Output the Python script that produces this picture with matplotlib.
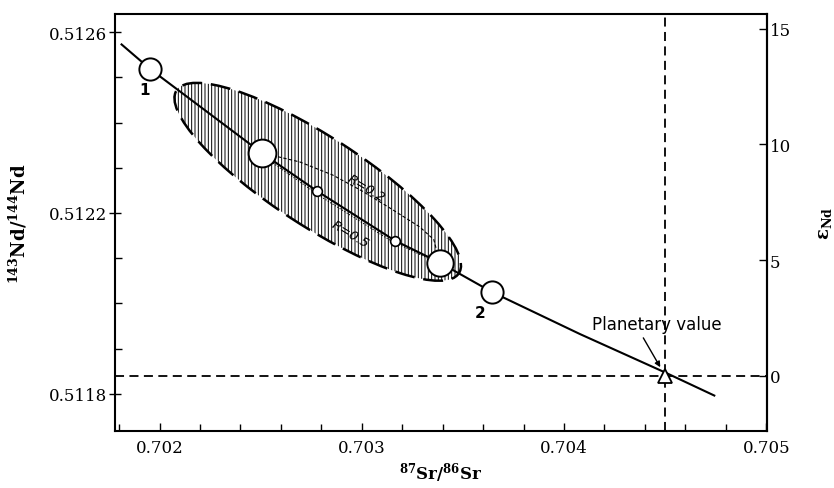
import matplotlib
matplotlib.use("Agg")
import matplotlib.pyplot as plt
from matplotlib import patches, transforms
from matplotlib.ticker import MultipleLocator, FixedLocator, FormatStrFormatter

plt.rcParams['font.family'] = ['DejaVu Serif']
plt.rcParams['mathtext.fontset'] = 'dejavuserif'
plt.rcParams['hatch.linewidth'] = 0.7

# mixing curve, 87Sr/86Sr vs 143Nd/144Nd
curve_sr = [0.701812, 0.701955, 0.702505, 0.702777, 0.703163, 0.703386, 0.703644, 0.704079, 0.704505, 0.704743]
curve_nd = [0.512573, 0.512518, 0.512333, 0.512249, 0.512139, 0.512090, 0.512025, 0.511932, 0.511846, 0.511796]

# open circles on the curve
big_sr = [0.701955, 0.702505, 0.703386, 0.703644]
big_nd = [0.512518, 0.512333, 0.512090, 0.512025]
big_ms = [16, 20, 19, 16]
small_sr = [0.702777, 0.703163]
small_nd = [0.512249, 0.512139]

# R = 0.2 and R = 0.5 curves
r02_sr = [0.702505, 0.702693, 0.702856, 0.703000, 0.703139, 0.703287, 0.703356, 0.703386]
r02_nd = [0.512333, 0.512313, 0.512284, 0.512249, 0.512211, 0.512169, 0.512141, 0.512090]
r05_sr = [0.702505, 0.702802, 0.703139, 0.703386]
r05_nd = [0.512328, 0.512235, 0.512140, 0.512087]

# hatched field (centre + two semi-axis vectors)
ell_center = (0.702782, 0.512269)
ell_major = (0.000698, -0.0002024)
ell_minor = (0.0001213, 0.0000835)

planet_sr = 0.7045
planet_nd = 0.51184
chur = 0.51184

nd_ticks = [0.5118, 0.5122, 0.5126]
eps_ticks = [0, 5, 10, 15]


def to_eps(r):
    return (r / chur - 1) * 1e4


def to_r(e):
    return (e / 1e4 + 1) * chur


fig = plt.figure(figsize=(8.34, 4.89), dpi=100)
ax = fig.add_axes([0.138, 0.117, 0.782, 0.852])

# hatched ellipse
m = transforms.Affine2D.from_values(ell_major[0], ell_major[1], ell_minor[0], ell_minor[1],
                                    ell_center[0], ell_center[1])
ell = patches.Circle((0, 0), 1, facecolor='none', edgecolor='black', hatch='|||||',
                     linewidth=1.8, linestyle=(0, (8, 3.5)), transform=m + ax.transData, zorder=1)
ax.add_patch(ell)

# planetary value cross-hair
ax.axhline(planet_nd, color='black', lw=1.3, dashes=(5, 3), zorder=2)
ax.axvline(planet_sr, color='black', lw=1.3, dashes=(5, 3), zorder=2)

ax.plot(r02_sr, r02_nd, color='black', lw=0.8, dashes=(3, 2), zorder=2)
ax.plot(r05_sr, r05_nd, color='black', lw=0.8, dashes=(1, 1.5), zorder=2)
ax.plot(curve_sr, curve_nd, color='black', lw=1.5, zorder=3)

for x, y, s in zip(big_sr, big_nd, big_ms):
    ax.plot(x, y, 'o', ms=s, mfc='white', mec='black', mew=1.4, zorder=4)
ax.plot(small_sr, small_nd, 'o', ms=7, mfc='white', mec='black', mew=1.2, zorder=4)
ax.plot(planet_sr, planet_nd, '^', ms=10, mfc='white', mec='black', mew=1.3, zorder=4)

ax.text(big_sr[0] - 0.00003, big_nd[0] - 0.000045, '1', family='DejaVu Sans', fontsize=11,
        fontweight='bold', ha='center', va='center')
ax.text(big_sr[3] - 0.00006, big_nd[3] - 0.000045, '2', family='DejaVu Sans', fontsize=11,
        fontweight='bold', ha='center', va='center')
ax.text(0.703020, 0.512257, 'R=0.2', family='DejaVu Sans', style='italic', fontsize=9.5,
        rotation=-31, ha='center', va='center')
ax.text(0.702941, 0.512154, 'R=0.5', family='DejaVu Sans', style='italic', fontsize=9.5,
        rotation=-31, ha='center', va='center')

ax.annotate('Planetary value', xy=(planet_sr, planet_nd), xytext=(0.70414, 0.511955),
            family='DejaVu Sans', fontsize=12, ha='left', va='center',
            arrowprops=dict(arrowstyle='-|>', color='black', lw=1, mutation_scale=8,
                            relpos=(0.37, 0.0), shrinkA=2, shrinkB=7))

ax.set_xlim(0.70178, 0.705005)
ax.set_ylim(0.511718, 0.51264)
ax.xaxis.set_major_locator(MultipleLocator(0.001))
ax.xaxis.set_minor_locator(MultipleLocator(0.0002))
ax.xaxis.set_major_formatter(FormatStrFormatter('%.3f'))
ax.yaxis.set_major_locator(FixedLocator(nd_ticks))
ax.yaxis.set_minor_locator(MultipleLocator(0.0001))
ax.yaxis.set_major_formatter(FormatStrFormatter('%.4f'))
ax.tick_params(axis='x', which='both', direction='in', top=False, labelsize=12, pad=6)
ax.tick_params(axis='x', which='major', length=6, width=1)
ax.tick_params(axis='x', which='minor', length=5, width=1)
ax.tick_params(axis='y', which='major', direction='inout', length=8, width=1, labelsize=12, pad=2, right=False)
ax.tick_params(axis='y', which='minor', direction='in', length=5, width=1, right=False)
for sp in ax.spines.values():
    sp.set_linewidth(1.5)

ax.set_xlabel(r'$\mathbf{^{87}Sr/^{86}Sr}$', fontsize=12, labelpad=3)
ax.set_ylabel(r'$\mathbf{^{143}Nd/^{144}Nd}$', fontsize=13, labelpad=14)

sec = ax.secondary_yaxis('right', functions=(to_eps, to_r))
sec.set_yticks(eps_ticks)
sec.tick_params(direction='in', length=6, width=1, labelsize=12, pad=2)
sec.spines['right'].set_linewidth(1.5)
sec.set_ylabel(r'$\mathbf{\epsilon_{Nd}}$', fontsize=13, labelpad=18)

fig.savefig('out.png', dpi=100)
